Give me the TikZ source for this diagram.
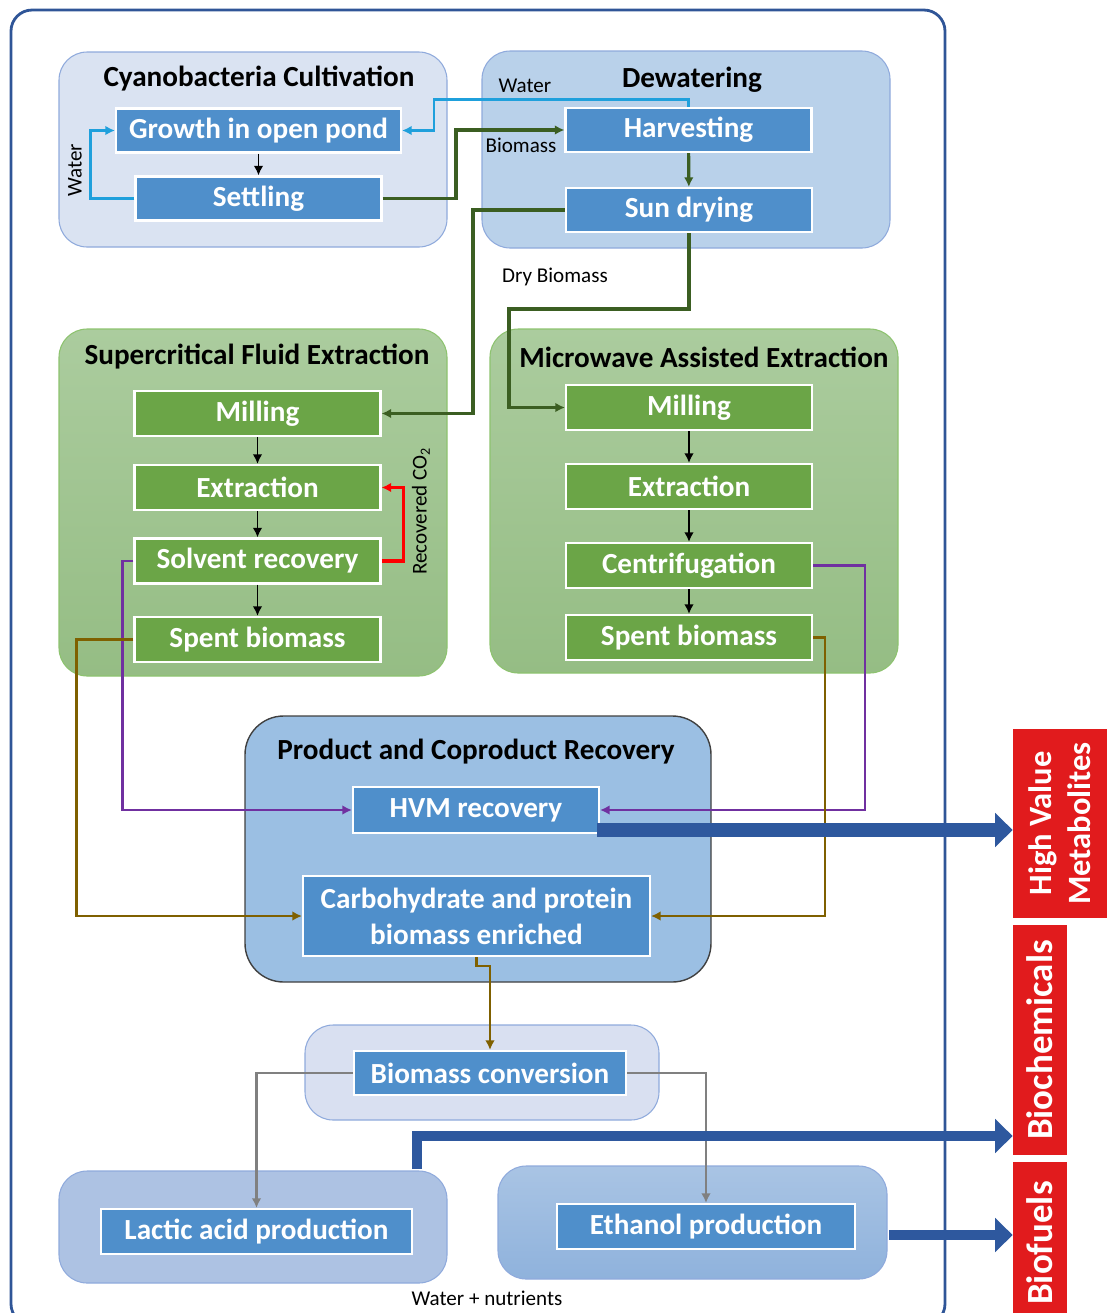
\documentclass[tikz,border=0pt]{standalone}
\usepackage{fontspec}
\setmainfont{Carlito}
\usetikzlibrary{positioning,arrows.meta,fit}

\definecolor{stepblue}{HTML}{4F8FCB}
\definecolor{stepgreen}{HTML}{6BA547}
\definecolor{waterblue}{HTML}{1FA0DC}
\definecolor{mossgreen}{HTML}{3B5E22}
\definecolor{hvmpurple}{HTML}{7030A0}
\definecolor{coprod}{HTML}{7F6000}
\definecolor{navy}{HTML}{2E589E}
\definecolor{outred}{HTML}{E11B1D}
\definecolor{paleblue}{HTML}{DAE3F2}
\definecolor{edgeblue}{HTML}{8FAADC}
\definecolor{midblue}{HTML}{B9D1EA}
\definecolor{prodblue}{HTML}{9BBFE3}
\definecolor{lavender}{HTML}{D9E0F1}
\definecolor{lacblue}{HTML}{ADC2E3}
\definecolor{ethtop}{HTML}{A9C4E4}
\definecolor{ethbot}{HTML}{8FB2DC}
\definecolor{sagetop}{HTML}{ABCC9E}
\definecolor{sagebot}{HTML}{95BD84}
\definecolor{sageedge}{HTML}{8DC36F}
\definecolor{frameblue}{HTML}{2F5597}

\begin{document}
\begin{tikzpicture}[
  x=0.02cm, y=-0.02cm,
  grp/.style={
    rectangle, rounded corners=16pt,
    draw=edgeblue, line width=0.6pt,
    inner sep=0pt
  },
  sage/.style={grp, draw=sageedge, top color=sagetop, bottom color=sagebot},
  unit/.style={
    rectangle, draw=white, line width=1.2pt,
    fill=stepblue, text=white,
    font=\fontsize{16.6}{20.5}\selectfont\bfseries,
    minimum width=4.92cm, minimum height=0.88cm,
    inner sep=2pt, align=center
  },
  gunit/.style={unit, fill=stepgreen, minimum height=0.9cm},
  ttl/.style={font=\fontsize{16.6}{19}\selectfont\bfseries},
  lbl/.style={font=\fontsize{12}{14}\selectfont},
  flow/.style={-{Latex[length=5.5pt,width=5.5pt]}, line width=1.4pt},
  blk/.style={flow, draw=black, line width=1.1pt},
  wat/.style={flow, draw=waterblue, line width=1.7pt},
  moss/.style={flow, draw=mossgreen, line width=1.8pt},
  prp/.style={flow, draw=hvmpurple},
  cop/.style={flow, draw=coprod},
  gry/.style={flow, draw=black!50, line width=1.6pt},
  rcy/.style={flow, draw=red, line width=1.8pt},
  big/.style={
    -{Triangle[length=10pt,width=19pt]},
    draw=navy, line width=7.5pt
  },
  outbox/.style={
    rectangle, fill=outred, text=white, rotate=90,
    font=\fontsize{21}{23}\selectfont\bfseries,
    align=center, inner sep=0pt
  }
]
\useasboundingbox (0,0) rectangle (1109,1313);

% ─── Frame and groups ───────────────────────────────────────
\node[grp, rounded corners=12pt, draw=frameblue, line width=1.6pt,
      fit={(11,10) (945,1325)}] (frame) {};

\node[grp, fill=paleblue, fit={(59,52) (447,247)}] (cultgrp) {};
\node[grp, fill=midblue,  fit={(482,51) (890,248)}] (dewgrp) {};
\node[sage, fit={(59,329) (447,676)}] (sfegrp) {};
\node[sage, fit={(490,329) (898,673)}] (maegrp) {};
\node[grp, fill=prodblue, draw=black!75, line width=0.8pt,
      rounded corners=22pt, fit={(245,716) (711,982)}] (prodgrp) {};
\node[grp, fill=lavender, fit={(305,1025) (659,1120)}] (convgrp) {};
\node[grp, fill=lacblue,  fit={(59,1171) (447,1283)}] (lacgrp) {};
\node[grp, top color=ethtop, bottom color=ethbot,
      fit={(498,1166) (887,1279)}] (ethgrp) {};

\node[ttl] at (259,79)  {Cyanobacteria Cultivation};
\node[ttl] at (692,80)  {Dewatering};
\node[ttl] at (257,357) {Supercritical Fluid Extraction};
\node[ttl] at (704,357) {Microwave Assisted Extraction};
\node[ttl] at (476,752) {Product and Coproduct Recovery};

% ─── Cultivation and dewatering ─────────────────────────────
\node[unit, minimum width=5.7cm] (grow) at (258.5,130.5) {Growth in open pond};
\node[unit] (settle) at (258.5,198.5) {Settling};
\node[unit] (harv)   at (688.5,130) {Harvesting};
\node[unit] (sun)    at (689,210)   {Sun drying};

\draw[blk]  (grow) -- (settle);
\draw[wat]  (settle.west) -- ++(-44,0) |- (grow.west);
\draw[wat]  (harv.north) |- (434,99) |- (grow.east);
\draw[moss] (settle.east) -| (456,130) -- (harv.west);
\draw[moss] (harv) -- (sun);

\node[lbl, rotate=90] at (75,170) {Water};
\node[lbl] at (525,86)  {Water};
\node[lbl] at (521,145) {Biomass};
\node[lbl] at (555,277) {Dry Biomass};

% ─── Supercritical fluid extraction ─────────────────────────
\node[gunit] (smill)  at (257.5,413.5) {Milling};
\node[gunit] (sextr)  at (257.5,487.5) {Extraction};
\node[gunit] (solv)   at (257.5,561)   {Solvent recovery};
\node[gunit] (sspent) at (257.5,639.5) {Spent biomass};

\draw[blk] (smill) -- (sextr);
\draw[blk] (sextr) -- (solv);
\draw[blk] (solv) -- (sspent);
\draw[rcy] (solv.east) -- ++(22,0) |- (sextr.east);
\node[lbl, rotate=90] at (421,511) {Recovered CO\textsubscript{2}};

% ─── Microwave assisted extraction ──────────────────────────
\node[gunit] (mmill)  at (689,407.5) {Milling};
\node[gunit] (mextr)  at (689,486.5) {Extraction};
\node[gunit] (centr)  at (689,565.5) {Centrifugation};
\node[gunit] (mspent) at (689,637.5) {Spent biomass};

\draw[blk] (mmill) -- (mextr);
\draw[blk] (mextr) -- (centr);
\draw[blk] (centr) -- (mspent);

\draw[moss] (sun.west) -| (473,413.5) -- (smill.east);
\draw[moss] (sun.south) |- (509,309) |- (mmill.west);

% ─── Product and coproduct recovery ─────────────────────────
\node[unit, minimum height=0.92cm] (hvm) at (476,810) {HVM recovery};
\node[unit, minimum width=6.94cm, minimum height=1.6cm] (carbo) at (476.5,916)
  {Carbohydrate and protein\\biomass enriched};

\draw[prp] (solv.west) -- ++(-11,0) |- (hvm.west);
\draw[prp] (centr.east) -- ++(52,0) |- (hvm.east);
\draw[cop] (sspent.west) -- ++(-57,0) |- (carbo.west);
\draw[cop] (mspent.east) -- ++(12,0) |- (carbo.east);

% ─── Conversion ─────────────────────────────────────────────
\node[unit, minimum width=5.44cm] (conv) at (490,1073) {Biomass conversion};
\node[unit, minimum width=6.22cm, minimum height=0.9cm] (lactic) at (256.5,1231.5)
  {Lactic acid production};
\node[unit, minimum width=5.96cm, minimum height=0.9cm] (ethanol) at (706,1226.5)
  {Ethanol production};

\draw[cop] (carbo.south) -- ++(0,9) -| (conv.north);
\draw[gry] (conv.west) -| (lactic.north);
\draw[gry] (conv.east) -| (ethanol.north);

\node[lbl] at (487,1298) {Water + nutrients};

% ─── Outputs ────────────────────────────────────────────────
\node[outbox, minimum width=3.78cm, minimum height=1.88cm,
      font=\fontsize{18.5}{22}\selectfont\bfseries] (hvmout) at (1060,823.5)
  {High Value\\Metabolites};
\node[outbox, minimum width=4.6cm, minimum height=1.08cm] (biochem) at (1040,1040)
  {Biochemicals};
\node[outbox, minimum width=3.26cm, minimum height=1.08cm] (biofuel) at (1040,1243)
  {Biofuels};

\coordinate (hvmtail)  at (597,830);
\coordinate (biotail)  at (417,1169);
\coordinate (bioturn)  at (417,1136);
\coordinate (fueltail) at (889,1235);

\draw[big] (hvmtail) -- (hvmtail -| hvmout.north);
\draw[big, line width=6pt, line join=miter] (biotail) -- (bioturn) -- (bioturn -| biochem.north);
\draw[big, line width=6pt] (fueltail) -- (fueltail -| biofuel.north);

\end{tikzpicture}
\end{document}
